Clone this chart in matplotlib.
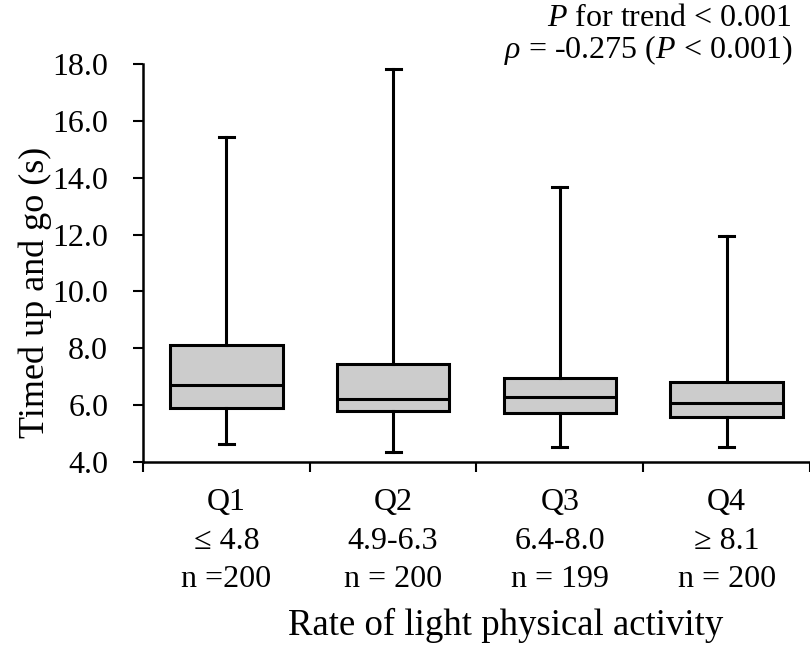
import matplotlib
matplotlib.use("Agg")
import matplotlib.pyplot as plt

plt.rcParams['font.family'] = ['Liberation Serif', 'DejaVu Serif']
plt.rcParams['mathtext.fontset'] = 'custom'
plt.rcParams['mathtext.rm'] = 'Liberation Serif'
plt.rcParams['mathtext.it'] = 'Liberation Serif:italic'

# Box statistics (seconds)
groups = ['Q1\n≤ 4.8\nn =200', 'Q2\n4.9-6.3\nn = 200',
          'Q3\n6.4-8.0\nn = 199', 'Q4\n≥ 8.1\nn = 200']
whisker_low = [4.62, 4.34, 4.52, 4.52]
q1 = [5.90, 5.80, 5.73, 5.57]
median = [6.72, 6.22, 6.29, 6.06]
q3 = [8.10, 7.45, 6.95, 6.80]
whisker_high = [15.43, 17.82, 13.67, 11.95]

yticks = [4.0, 6.0, 8.0, 10.0, 12.0, 14.0, 16.0, 18.0]

stats = []
for i in range(len(groups)):
    stats.append(dict(whislo=whisker_low[i], q1=q1[i], med=median[i],
                      q3=q3[i], whishi=whisker_high[i], fliers=[]))

fs = 23
fig = plt.figure(figsize=(8.1, 6.46), dpi=100)
ax = fig.add_axes([0.1765, 0.2848, 0.8235, 0.6162])

lw = 2.2
ax.bxp(stats, positions=range(1, 5), widths=0.675, showfliers=False,
       patch_artist=True,
       boxprops=dict(facecolor='#cccccc', edgecolor='black', linewidth=lw),
       medianprops=dict(color='black', linewidth=lw),
       whiskerprops=dict(color='black', linewidth=lw),
       capprops=dict(color='black', linewidth=lw),
       capwidths=0.09)

ax.set_ylim(4.0, 18.0)
ax.set_xlim(0.5, 4.5)
ax.set_yticks(yticks)
ax.set_yticklabels([f'{v:.1f}' for v in yticks], fontsize=fs)

# category boundaries as major ticks, labels on minor ticks at centres
ax.set_xticks([0.5, 1.5, 2.5, 3.5, 4.5])
ax.set_xticklabels([])
ax.set_xticks([1, 2, 3, 4], minor=True)
ax.set_xticklabels(groups, minor=True, fontsize=fs, linespacing=1.42)
ax.tick_params(axis='x', which='minor', length=0, pad=19)
ax.tick_params(axis='x', which='major', direction='out', length=7, width=1.5)
ax.tick_params(axis='y', direction='out', length=7, width=1.5, pad=18)

for side in ['top', 'right']:
    ax.spines[side].set_visible(False)
for side in ['left', 'bottom']:
    ax.spines[side].set_linewidth(1.8)

ax.set_ylabel('Timed up and go (s)', fontsize=26, va='center')
ax.yaxis.set_label_coords(-0.162, 0.427)
ax.set_xlabel('Rate of light physical activity', fontsize=26.5, va='center')
ax.xaxis.set_label_coords(0.544, -0.41)

fig.text(0.978, 0.972, '$P$ for trend < 0.001', ha='right', va='center', fontsize=fs)
fig.text(0.978, 0.922, r'$\rho$ = -0.275 ($P$ < 0.001)', ha='right', va='center', fontsize=fs)

fig.savefig('out.png', dpi=100)
